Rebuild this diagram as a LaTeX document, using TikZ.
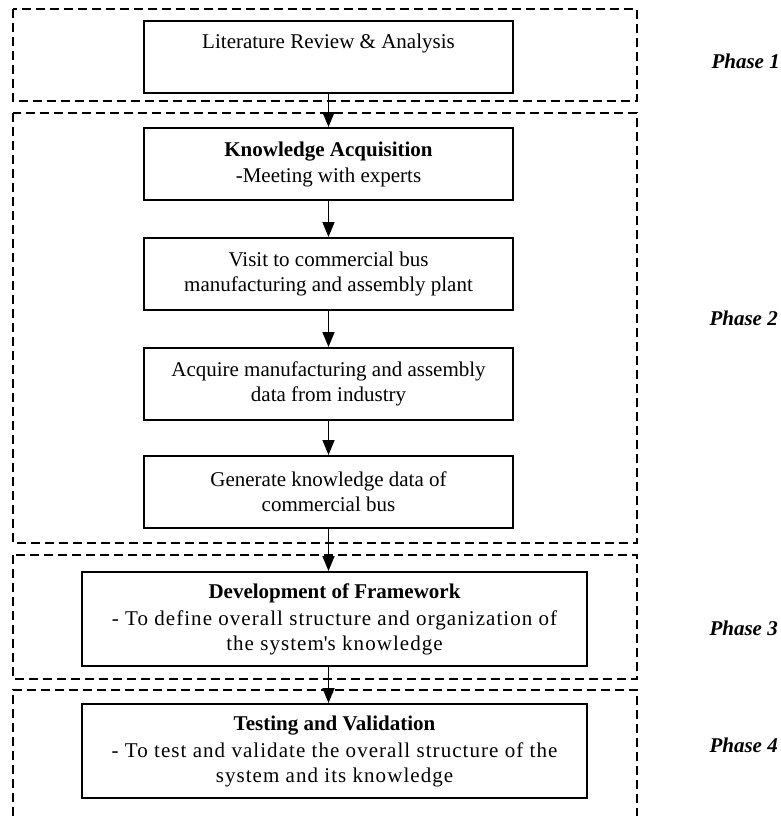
\documentclass[tikz,border=0pt]{standalone}
\usepackage{fontspec}
\setmainfont{Liberation Serif}
\newfontfamily\spreadfont{Liberation Serif}[LetterSpace=5]
\usetikzlibrary{arrows.meta}

\begin{document}
\begin{tikzpicture}[x=1pt,y=-1pt,
        stepbox/.style={draw,line width=2pt,align=center,inner sep=0pt,
            font=\fontsize{21}{25}\selectfont},
        smallbox/.style={stepbox,minimum width=369pt,minimum height=72pt},
        widebox/.style={stepbox,minimum width=505pt,minimum height=94pt,
            font=\fontsize{21}{25}\selectfont},
        phasebox/.style={line width=1.8pt,dash pattern=on 9pt off 5pt},
        phaselabel/.style={anchor=west,font=\fontsize{21}{25}\selectfont\bfseries\itshape},
        flow/.style={line width=1.6pt,-{Triangle[length=15pt,width=12pt]}}]
        \useasboundingbox (0,0) rectangle (781,816);
        % phase frames
        \draw[phasebox] (13,9) rectangle (637,101);
        \draw[phasebox] (13,113) rectangle (637,543);
        \draw[phasebox] (13,555) rectangle (637,679);
        \draw[phasebox] (13,816) |- (637,690) -- (637,816);
        % steps
        \node[smallbox,text depth=32pt] (lit) at (328.5,57) {Literature Review \& Analysis};
        \node[smallbox] (acq) at (328.5,164) {\textbf{Knowledge Acquisition}\\[1pt]-Meeting with experts};
        \node[smallbox] (visit) at (328.5,274) {Visit to commercial bus\\manufacturing and assembly plant};
        \node[smallbox] (data) at (328.5,384) {Acquire manufacturing and assembly\\data from industry};
        \node[smallbox] (gen) at (328.5,492) {Generate knowledge data of\\commercial bus};
        \node[widebox] (frame) at (334.5,619) {\textbf{Development of Framework}\\[2pt]{\spreadfont - To define overall structure and organization of}\\{\spreadfont the system{\textquotesingle}s knowledge}};
        \node[widebox] (test) at (334.5,751) {\textbf{Testing and Validation}\\[2pt]{\spreadfont - To test and validate the overall structure of the}\\{\spreadfont system and its knowledge}};
        % arrows
        \draw[flow] (lit) -- (acq);
        \draw[flow] (acq) -- (visit);
        \draw[flow] (visit) -- (data);
        \draw[flow] (data) -- (gen);
        \draw[flow] (gen) -- (gen |- frame.north);
        \draw[flow] (frame.south -| gen) -- (test.north -| gen);
        % phase labels
        \node[phaselabel] (p1) at (708,61) {Phase 1};
        \node[phaselabel] (p2) at (706,318) {Phase 2};
        \node[phaselabel] (p3) at (706,628) {Phase 3};
        \node[phaselabel] (p4) at (706,745) {Phase 4};
\end{tikzpicture}
\end{document}
